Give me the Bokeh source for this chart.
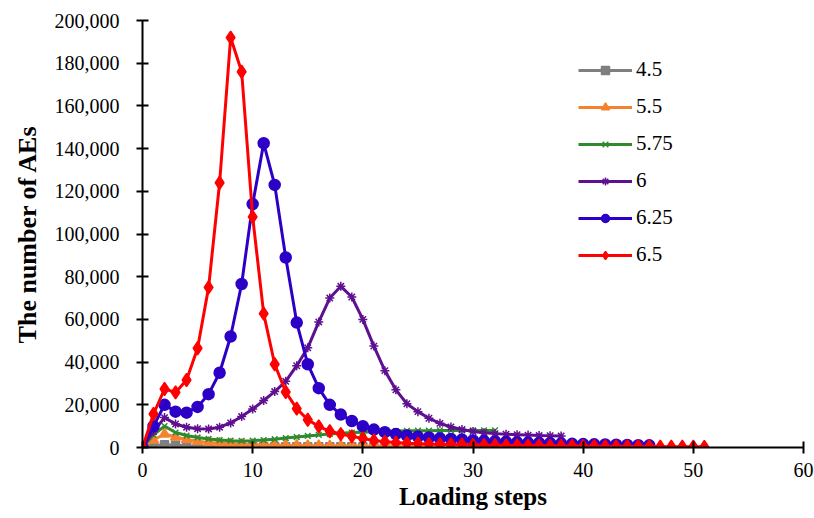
from bokeh.plotting import figure
from bokeh.models import Range1d, SingleIntervalTicker, NumeralTickFormatter
from bokeh.embed import file_html
from bokeh.resources import INLINE

# Number of acoustic emission events per loading step, one series per load level
labels = ["4.5", "5.5", "5.75", "6", "6.25", "6.5"]

aes_45 = [0, 800, 1300, 1000, 800, 700, 600, 550, 500, 500,
          450, 450, 400, 400, 400, 350, 350, 350, 300, 300,
          300, 300, 300, 250, 250, 250, 250, 250, 200, 200,
          200, 200, 200]
aes_55 = [0, 3500, 6300, 4900, 3700, 2900, 2400, 2000, 1700, 1500,
          1300, 1200, 1100, 1000, 950, 900, 850, 800, 800, 750,
          750, 700, 700, 700, 650, 650, 650, 600, 600, 600,
          600, 600, 600]
aes_575 = [0, 6000, 10000, 7000, 5600, 4700, 4000, 3500, 3200, 3100,
           3200, 3500, 3900, 4400, 4900, 5400, 5900, 6300, 6700, 7000,
           7200, 7400, 7600, 7700, 7800, 7900, 7900, 8000, 8000, 8000,
           8000, 8000, 8000]
aes_6 = [0, 7500, 14000, 11000, 9500, 8800, 8700, 9500, 11500, 14500,
         18000, 22000, 26200, 31000, 38300, 46700, 58800, 70000, 75500, 70500,
         60000, 47500, 36000, 27000, 20500, 16800, 13700, 11300, 9600, 8400,
         7500, 6900, 6500, 6200, 6000, 5800, 5600, 5500, 5400]
aes_625 = [0, 10000, 20000, 16800, 16300, 19000, 25000, 35000, 52000, 76600,
           114000, 142500, 123000, 89000, 58500, 39000, 27800, 20000, 15400, 12400,
           10000, 8400, 7200, 6300, 5600, 5100, 4700, 4300, 4000, 3700,
           3300, 3000, 2800, 2600, 2400, 2200, 2100, 2000, 1800, 1700,
           1600, 1500, 1400, 1300, 1200, 1100, 1000]
aes_65 = [0, 15700, 27400, 25800, 31600, 46500, 75000, 124000, 192000, 176000,
          108000, 62700, 39000, 26000, 18200, 13000, 9900, 7600, 6300, 5200,
          4200, 3300, 2700, 2300, 2000, 1800, 1600, 1500, 1400, 1300,
          1200, 1100, 1050, 1000, 950, 900, 850, 800, 750, 700,
          650, 600, 550, 500, 500, 450, 450, 400, 400, 350,
          350, 300]

series = [aes_45, aes_55, aes_575, aes_6, aes_625, aes_65]
colors = ["#7F7F7F", "#F5822E", "#2F8A2F", "#5E1090", "#2C00C6", "#FF0000"]
markers = ["square", "triangle", "x", "asterisk", "circle", "diamond"]
msizes = [8, 10, 8, 9, 11, 13]

FONT = "Liberation Serif"

p = figure(width=814, height=518, output_backend="svg", toolbar_location=None,
           x_range=Range1d(0, 60), y_range=Range1d(0, 200000),
           min_border_left=142, min_border_right=11,
           min_border_top=20, min_border_bottom=71,
           background_fill_color="white", border_fill_color="white")
p.outline_line_color = None
p.xgrid.visible = False
p.ygrid.visible = False

for name, vals, col, mk, ms in zip(labels, series, colors, markers, msizes):
    steps = list(range(len(vals)))
    p.line(steps, vals, line_color=col, line_width=3, legend_label=name)
    p.scatter(steps, vals, marker=mk, size=ms, fill_color=col, line_color=col,
              line_width=1.5, legend_label=name)

# Axes
p.xaxis.ticker = SingleIntervalTicker(interval=10, num_minor_ticks=0)
p.yaxis.ticker = SingleIntervalTicker(interval=20000, num_minor_ticks=0)
p.yaxis.formatter = NumeralTickFormatter(format="0,0")
for ax in (p.xaxis[0], p.yaxis[0]):
    ax.axis_line_color = "black"
    ax.axis_line_width = 2
    ax.major_tick_line_color = "black"
    ax.major_tick_line_width = 2
    ax.major_tick_in = 6
    ax.major_tick_out = 6
    ax.minor_tick_line_color = None
    ax.major_label_text_font = FONT
    ax.major_label_text_font_size = "20px"
    ax.major_label_text_color = "black"
    ax.axis_label_text_font = FONT
    ax.axis_label_text_font_style = "bold"
    ax.axis_label_text_color = "black"

p.xaxis.axis_label = "Loading steps"
p.yaxis.axis_label = "The number of AEs"
p.xaxis.axis_label_text_font_size = "25px"
p.yaxis.axis_label_text_font_size = "26px"
p.xaxis.major_label_standoff = 9
p.yaxis.major_label_standoff = 17
p.xaxis.axis_label_standoff = 3
p.yaxis.axis_label_standoff = 10

# Legend
lg = p.legend[0]
lg.location = (436, 180)
lg.background_fill_alpha = 0
lg.border_line_alpha = 0
lg.padding = 0
lg.margin = 0
lg.spacing = 12
lg.glyph_width = 54
lg.glyph_height = 20
lg.label_height = 20
lg.label_standoff = 4
lg.label_text_font = FONT
lg.label_text_font_size = "21px"
lg.label_text_color = "black"

open("out.html", "w").write(file_html(p, INLINE))
